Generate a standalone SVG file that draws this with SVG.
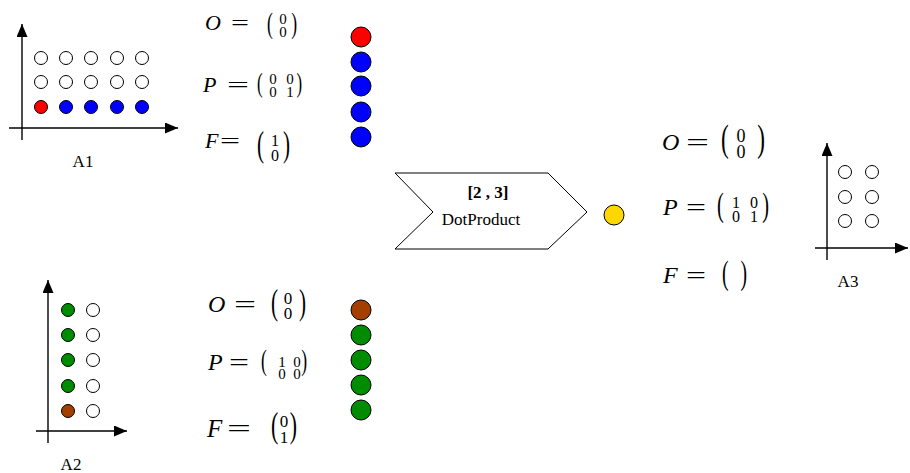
<svg xmlns="http://www.w3.org/2000/svg" width="910" height="473" viewBox="0 0 910 473">
<style>
.ax{stroke:#000;stroke-width:1.4;fill:none}
.c{stroke:#000;stroke-width:1}
.w{fill:#fff}.r{fill:#ff0000}.b{fill:#0000ff}.g{fill:#008c00}.br{fill:#a33f00}.y{fill:#ffd700}
.lab{font-family:"Liberation Serif","Times New Roman",serif;font-size:17px;fill:#000}
.v{font-family:"Liberation Serif","Times New Roman",serif;font-style:italic;fill:#000}
.e{font-family:"Liberation Serif","Times New Roman",serif;fill:#000}
.p{font-family:"Liberation Serif","Times New Roman",serif;fill:#000}
.d{font-family:"Liberation Serif","Times New Roman",serif;fill:#000;text-anchor:middle}
</style>
<defs>
<marker id="ah" markerUnits="userSpaceOnUse" markerWidth="14" markerHeight="12" refX="13" refY="5.5" orient="auto">
<path d="M0,0 L13,5.5 L0,11 z" fill="#000"/>
</marker>
</defs>

<g id="chart-a1">
<line class="ax" x1="22" y1="140" x2="22" y2="24" marker-end="url(#ah)"/>
<line class="ax" x1="9" y1="128" x2="178" y2="128" marker-end="url(#ah)"/>
<g class="c">
<circle class="w" cx="41" cy="58" r="6.5"/><circle class="w" cx="66" cy="58" r="6.5"/><circle class="w" cx="91" cy="58" r="6.5"/><circle class="w" cx="117" cy="58" r="6.5"/><circle class="w" cx="142" cy="58" r="6.5"/>
<circle class="w" cx="41" cy="82" r="6.5"/><circle class="w" cx="66" cy="82" r="6.5"/><circle class="w" cx="91" cy="82" r="6.5"/><circle class="w" cx="117" cy="82" r="6.5"/><circle class="w" cx="142" cy="82" r="6.5"/>
<circle class="r" cx="41" cy="107" r="6.5"/><circle class="b" cx="66" cy="107" r="6.5"/><circle class="b" cx="91" cy="107" r="6.5"/><circle class="b" cx="117" cy="107" r="6.5"/><circle class="b" cx="142" cy="107" r="6.5"/>
</g>
<text class="lab" x="83" y="167" text-anchor="middle">A1</text>
</g>

<g id="formulas-a1">
<text class="v" x="205" y="30" font-size="22">O</text>
<text class="e" x="231" y="30" font-size="22" textLength="18" lengthAdjust="spacingAndGlyphs">=</text>
<text class="p" transform="translate(267,32.8) scale(0.6,1)" font-size="29.3">(</text>
<text class="d" x="283" y="24" font-size="15">0</text><text class="d" x="283" y="37" font-size="15">0</text>
<text class="p" transform="translate(297,32.8) scale(0.6,1)" font-size="29.3" text-anchor="end">)</text>

<text class="v" x="203" y="92" font-size="22">P</text>
<text class="e" x="227" y="92" font-size="22" textLength="22" lengthAdjust="spacingAndGlyphs">=</text>
<text class="p" transform="translate(257,92) scale(0.6,1)" font-size="28.1">(</text>
<text class="d" x="273" y="84" font-size="15">0</text><text class="d" x="290" y="84" font-size="15">0</text>
<text class="d" x="273" y="97" font-size="15">0</text><text class="d" x="290" y="97" font-size="15">1</text>
<text class="p" transform="translate(302,92) scale(0.6,1)" font-size="28.1" text-anchor="end">)</text>

<text class="v" x="205" y="148" font-size="22">F</text>
<text class="e" x="220" y="148" font-size="22" textLength="20" lengthAdjust="spacingAndGlyphs">=</text>
<text class="p" transform="translate(257,155.8) scale(0.6,1)" font-size="35.2">(</text>
<text class="d" x="275" y="146" font-size="16">1</text><text class="d" x="275" y="161" font-size="16">0</text>
<text class="p" transform="translate(290,155.8) scale(0.6,1)" font-size="35.2" text-anchor="end">)</text>
</g>

<g id="column-a1" class="c">
<circle class="r" cx="361" cy="37" r="10"/>
<circle class="b" cx="361" cy="62" r="10"/>
<circle class="b" cx="361" cy="86" r="10"/>
<circle class="b" cx="361" cy="112" r="10"/>
<circle class="b" cx="361" cy="137" r="10"/>
</g>

<g id="op-dotproduct">
<polygon points="395,173 548,173 587,212 548,249 395,249 433,212" fill="#fff" stroke="#000" stroke-width="1"/>
<text class="lab" x="488" y="198" text-anchor="middle" font-weight="bold">[2 , 3]</text>
<text class="lab" x="481" y="225" text-anchor="middle">DotProduct</text>
</g>

<g id="dot-output">
<circle class="c y" cx="614" cy="215" r="10"/>
</g>

<g id="formulas-a3">
<text class="v" x="662" y="150" font-size="24">O</text>
<text class="e" x="686" y="150" font-size="24" textLength="23" lengthAdjust="spacingAndGlyphs">=</text>
<text class="p" transform="translate(721,151.2) scale(0.6,1)" font-size="38.7">(</text>
<text class="d" x="741" y="142" font-size="18">0</text><text class="d" x="741" y="158" font-size="18">0</text>
<text class="p" transform="translate(765,151.2) scale(0.6,1)" font-size="38.7" text-anchor="end">)</text>

<text class="v" x="663" y="215" font-size="24">P</text>
<text class="e" x="686" y="215" font-size="24" textLength="20" lengthAdjust="spacingAndGlyphs">=</text>
<text class="p" transform="translate(717,216) scale(0.6,1)" font-size="34">(</text>
<text class="d" x="736" y="208" font-size="16">1</text><text class="d" x="754" y="208" font-size="16">0</text>
<text class="d" x="736" y="222" font-size="16">0</text><text class="d" x="754" y="222" font-size="16">1</text>
<text class="p" transform="translate(769,216) scale(0.6,1)" font-size="34" text-anchor="end">)</text>

<text class="v" x="663" y="283" font-size="24">F</text>
<text class="e" x="686" y="283" font-size="24" textLength="20" lengthAdjust="spacingAndGlyphs">=</text>
<text class="p" transform="translate(722,284.2) scale(0.6,1)" font-size="32.8">(</text>
<text class="p" transform="translate(747,284.2) scale(0.6,1)" font-size="32.8" text-anchor="end">)</text>
</g>

<g id="chart-a3">
<line class="ax" x1="827" y1="260" x2="827" y2="143" marker-end="url(#ah)"/>
<line class="ax" x1="815" y1="248" x2="908" y2="248" marker-end="url(#ah)"/>
<g class="c">
<circle class="w" cx="845" cy="172" r="6.5"/><circle class="w" cx="872" cy="172" r="6.5"/>
<circle class="w" cx="845" cy="197" r="6.5"/><circle class="w" cx="872" cy="197" r="6.5"/>
<circle class="w" cx="845" cy="221" r="6.5"/><circle class="w" cx="872" cy="221" r="6.5"/>
</g>
<text class="lab" x="848" y="287" text-anchor="middle">A3</text>
</g>

<g id="chart-a2">
<line class="ax" x1="48" y1="443" x2="48" y2="280" marker-end="url(#ah)"/>
<line class="ax" x1="36" y1="431" x2="127" y2="431" marker-end="url(#ah)"/>
<g class="c">
<circle class="g" cx="68" cy="310" r="6.5"/><circle class="w" cx="93" cy="310" r="6.5"/>
<circle class="g" cx="68" cy="335" r="6.5"/><circle class="w" cx="93" cy="335" r="6.5"/>
<circle class="g" cx="68" cy="360" r="6.5"/><circle class="w" cx="93" cy="360" r="6.5"/>
<circle class="g" cx="68" cy="386" r="6.5"/><circle class="w" cx="93" cy="386" r="6.5"/>
<circle class="br" cx="68" cy="411" r="6.5"/><circle class="w" cx="93" cy="411" r="6.5"/>
</g>
<text class="lab" x="71" y="470" text-anchor="middle">A2</text>
</g>

<g id="formulas-a2">
<text class="v" x="208" y="312" font-size="24">O</text>
<text class="e" x="234" y="312" font-size="24" textLength="22" lengthAdjust="spacingAndGlyphs">=</text>
<text class="p" transform="translate(271,313.8) scale(0.6,1)" font-size="35.2">(</text>
<text class="d" x="288" y="304" font-size="17">0</text><text class="d" x="288" y="319" font-size="17">0</text>
<text class="p" transform="translate(306,313.8) scale(0.6,1)" font-size="35.2" text-anchor="end">)</text>

<text class="v" x="208" y="370" font-size="24">P</text>
<text class="e" x="229" y="370" font-size="24" textLength="20" lengthAdjust="spacingAndGlyphs">=</text>
<text class="p" transform="translate(261,369.8) scale(0.6,1)" font-size="29.3">(</text>
<text class="d" x="282" y="367" font-size="15">1</text><text class="d" x="297" y="367" font-size="15">0</text>
<text class="d" x="282" y="379" font-size="15">0</text><text class="d" x="297" y="379" font-size="15">0</text>
<text class="p" transform="translate(307,369.8) scale(0.6,1)" font-size="29.3" text-anchor="end">)</text>

<text class="v" x="207" y="437" font-size="25">F</text>
<text class="e" x="227" y="437" font-size="25" textLength="24" lengthAdjust="spacingAndGlyphs">=</text>
<text class="p" transform="translate(271,436.6) scale(0.6,1)" font-size="36.3">(</text>
<text class="d" x="284" y="427" font-size="17">0</text><text class="d" x="284" y="443" font-size="17">1</text>
<text class="p" transform="translate(297,436.6) scale(0.6,1)" font-size="36.3" text-anchor="end">)</text>
</g>

<g id="column-a2" class="c">
<circle class="br" cx="361" cy="310" r="10"/>
<circle class="g" cx="361" cy="335" r="10"/>
<circle class="g" cx="361" cy="360" r="10"/>
<circle class="g" cx="361" cy="385" r="10"/>
<circle class="g" cx="361" cy="410" r="10"/>
</g>

<g id="connectors"></g>
</svg>
